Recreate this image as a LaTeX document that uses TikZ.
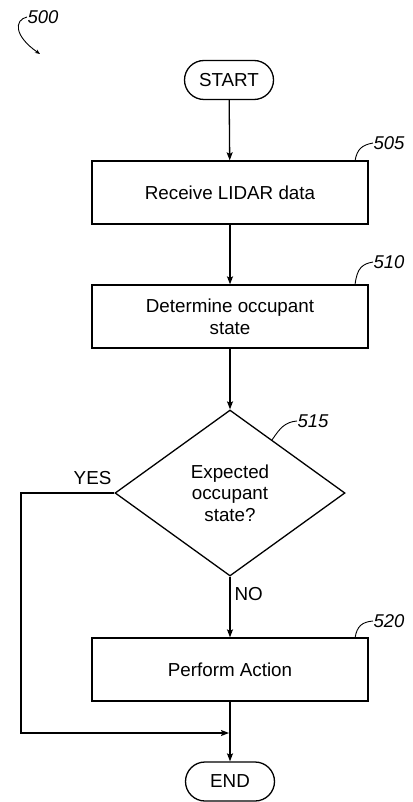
\documentclass[tikz,border=0pt]{standalone}
\usepackage{fontspec}
\setmainfont{Liberation Sans}
\usetikzlibrary{shapes.geometric,arrows.meta}

\begin{document}
\begin{tikzpicture}[x=1pt,y=-1pt,
  line width=1.3pt,
  every node/.style={font=\fontsize{18.8}{21.7}\selectfont},
  terminal/.style={draw,rounded corners=19.5pt,minimum width=89pt,minimum height=39pt,inner sep=0pt},
  process/.style={draw,minimum width=276pt,minimum height=63pt,align=center,inner sep=0pt},
  decision/.style={draw,diamond,minimum width=230pt,minimum height=166pt,inner sep=0pt,align=center},
  refnum/.style={font=\fontsize{18.5}{21}\selectfont\itshape,inner sep=0pt,anchor=west},
  leader/.style={line width=0.9pt},
  flow/.style={-{Stealth[length=8pt,width=6pt,inset=1.5pt]}}]
\useasboundingbox (0,0) rectangle (412,802);

\node[terminal] (start) at (229,80) {START};
\node[process] (receive) at (230,192.5) {Receive LIDAR data};
\node[process] (determine) at (230,316.5) {Determine occupant\\state};
\node[decision] (expected) at (230,493) {Expected\\occupant\\state?};
\node[process] (perform) at (230,669.5) {Perform Action};
\node[terminal] (finish) at (230,781.5) {END};

\draw[flow] (start) -- (receive);
\draw[flow] (receive) -- (determine);
\draw[flow] (determine) -- (expected);
\draw[flow] (expected) -- (perform);
\draw[flow] (perform) -- (finish);

% yes branch joins the line to END
\coordinate (yescorner) at (21,733);
\coordinate (join) at (229,733);
\draw[flow] (expected.west) -| (yescorner) -- (join);
\node[anchor=south east,inner sep=0pt] (yes) at (112,485) {YES};
\node[anchor=west,inner sep=0pt] (no) at (234,594) {NO};

% reference numbers
\node[refnum] (n500) at (27,17) {500};
\draw[leader,-{Stealth[length=5pt,width=4pt]}] (n500.west) .. controls (14,20) and (14,36) .. (40,54);
\node[refnum] (n505) at (373,143) {505};
\draw[leader] (355,161) .. controls (357,149) and (362,145) .. (n505.west);
\node[refnum] (n510) at (373,262) {510};
\draw[leader] (355,285) .. controls (357,268) and (362,264) .. (n510.west);
\node[refnum] (n515) at (297,421) {515};
\draw[leader] (272,440) .. controls (280,428) and (285,422) .. (n515.west);
\node[refnum] (n520) at (373,621) {520};
\draw[leader] (355,638) .. controls (357,626) and (362,622) .. (n520.west);
\end{tikzpicture}
\end{document}
